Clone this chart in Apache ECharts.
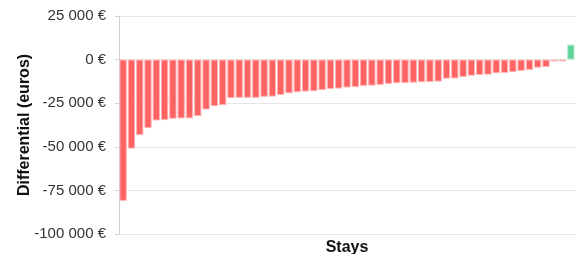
<!DOCTYPE html>
<html><head><meta charset="utf-8">
<script src="https://cdn.jsdelivr.net/npm/echarts@6/dist/echarts.min.js"></script>
<style>html,body{margin:0;padding:0;background:#fff}#c{width:576px;height:254px}</style>
</head><body><div id="c"></div>
<script>
const stays = Array.from({length:55},(_,i)=>'Stay '+(i+1));
const differential = [-81000,-51000,-43300,-39300,-34900,-34700,-33900,-33700,-33700,-32400,
-28600,-26700,-26100,-22100,-21900,-21900,-21900,-21300,-21200,-20300,
-19300,-18700,-18300,-18100,-17400,-16800,-16600,-16000,-15800,-15100,
-14900,-14500,-13900,-13500,-13400,-13200,-13000,-12800,-12600,-10900,
-10800,-9900,-9200,-8800,-8600,-7800,-7700,-7200,-6500,-5900,
-4600,-4200,-1000,-1000,8600];
const yTicks = [-100000,-75000,-50000,-25000,0,25000];
const chart = echarts.init(document.getElementById('c'),null,{renderer:'canvas'});
function fmt(v){const s=Math.abs(v).toString().replace(/\B(?=(\d{3})+(?!\d))/g,' ');return (v<0?'-':'')+s+' €';}
chart.setOption({
  animation:false,
  grid:{left:119,right:1,top:16,bottom:20,containLabel:false,outerBoundsMode:'none'},
  xAxis:{type:'category',data:stays,axisLine:{show:false,onZero:false},axisTick:{show:false},axisLabel:{show:false},
    name:'Stays',nameLocation:'middle',nameGap:6,nameMoveOverlap:false,nameTextStyle:{fontFamily:'Liberation Sans',fontWeight:'bold',fontSize:16,color:'#111',verticalAlign:'top'}},
  yAxis:{type:'value',min:yTicks[0],max:yTicks[yTicks.length-1],interval:25000,
    axisLine:{show:true,lineStyle:{color:'#d0d0d0'}},axisTick:{show:true,length:4,lineStyle:{color:'#d0d0d0'}},
    splitLine:{lineStyle:{color:'#e6e6e6'}},
    axisLabel:{formatter:fmt,fontFamily:'Liberation Sans',fontSize:15,color:'#333',margin:13},
    name:'Differential (euros)',nameLocation:'middle',nameRotate:90,nameGap:86,nameMoveOverlap:false,
    nameTextStyle:{fontFamily:'Liberation Sans',fontWeight:'bold',fontSize:16,color:'#111'}},
  series:[{type:'bar',data:differential.map(v=>({value:v,itemStyle:v>=0?{color:'#5fd39a',borderColor:'#b5ecd0'}:{color:'#ff6262',borderColor:'#ffb3b3'}})),
    barCategoryGap:'12%',itemStyle:{borderWidth:1}}]
});
</script></body></html>
